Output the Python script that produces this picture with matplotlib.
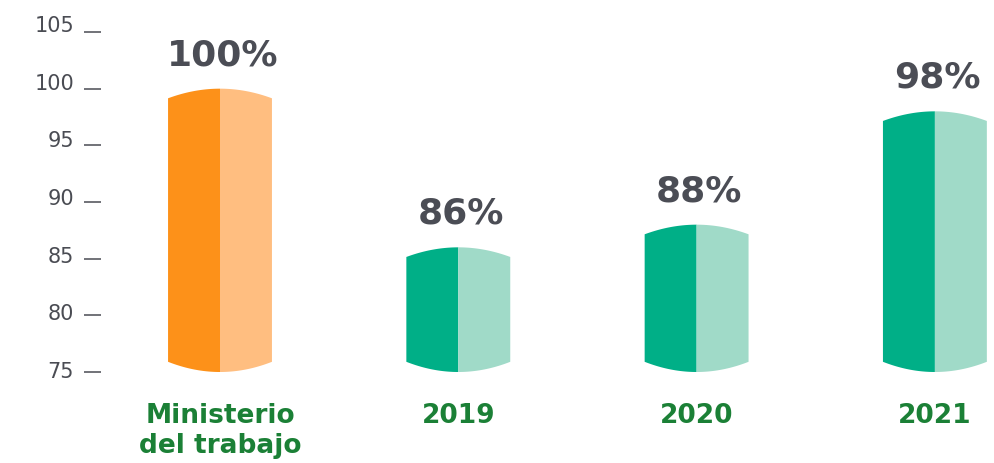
import numpy as np
import matplotlib
matplotlib.use("Agg")
import matplotlib.pyplot as plt
from matplotlib.patches import Polygon

# data
categories = ["Ministerio\ndel trabajo", "2019", "2020", "2021"]
values = [100, 86, 88, 98]
pct_labels = ["100%", "86%", "88%", "98%"]
yticks = [75, 80, 85, 90, 95, 100, 105]

dark_colors = ["#fd9119", "#00af87", "#00af87", "#00af87"]
light_colors = ["#ffbe80", "#a0dac8", "#a0dac8", "#a0dac8"]

base = 75
bar_w = 0.436
arc_top = 0.85     # sagitta of the top cap, in data units
arc_bot = 0.9      # sagitta of the bottom cap

fig = plt.figure(figsize=(9.95, 4.63), dpi=100)
ax = fig.add_axes([101 / 995, (463 - 372) / 463, (995 - 101) / 995, 340 / 463])
ax.set_ylim(75, 105)
xmin = -(220 - 101) / 238.3
xmax = (995 - 220) / 238.3
ax.set_xlim(xmin, xmax)

for s in ax.spines.values():
    s.set_visible(False)
ax.set_xticks([])
ax.set_yticks(yticks)
ax.tick_params(axis="y", length=12, width=1.1, color="#4a4c53", labelleft=False)

# y tick labels, nudged up a little toward the top
for v in yticks:
    off = (v - 75) / 30 * 6
    ax.annotate(str(v), xy=(0, v), xycoords=("axes fraction", "data"),
                xytext=(-27, off), textcoords="offset pixels",
                ha="right", va="center", fontsize=15, color="#4a4c53")


def half_bar(x0, x1, c, top, color):
    xs = np.linspace(x0, x1, 40)
    u = (xs - c) / (bar_w / 2)
    ytop = top - arc_top * u ** 2
    ybot = base + arc_bot * u ** 2
    pts = np.concatenate([np.column_stack([xs, ytop]),
                          np.column_stack([xs[::-1], ybot[::-1]])])
    ax.add_patch(Polygon(pts, closed=True, facecolor=color, edgecolor="none"))


for i, (v, lab) in enumerate(zip(values, pct_labels)):
    half_bar(i - bar_w / 2, i, i, v, dark_colors[i])
    half_bar(i, i + bar_w / 2, i, v, light_colors[i])
    ax.annotate(lab, xy=(i, v), xytext=(2, 17), textcoords="offset points",
                ha="center", va="baseline", fontsize=26, fontweight="bold",
                color="#4b4d55")
    ax.annotate(categories[i], xy=(i, base), xytext=(0, -22), textcoords="offset points",
                ha="center", va="top", fontsize=19, fontweight="bold",
                color="#1b8036", linespacing=1.2)

fig.savefig("out.png", dpi=100)
